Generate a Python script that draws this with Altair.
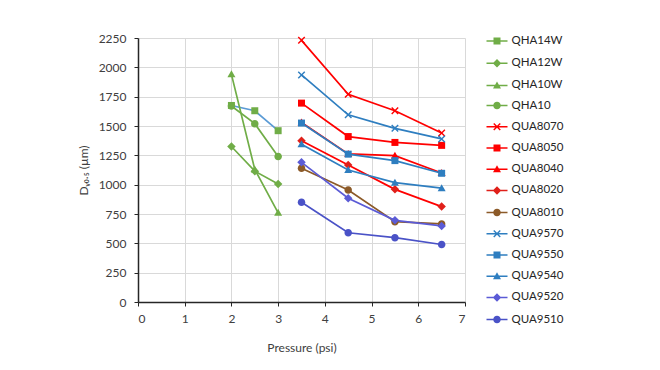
import altair as alt
import pandas as pd

# ---- data ----
x_qha = [2, 2.5, 3]
x_qua = [3.5, 4.5, 5.5, 6.5]

names = ["QHA14W", "QHA12W", "QHA10W", "QHA10",
         "QUA8070", "QUA8050", "QUA8040", "QUA8020", "QUA8010",
         "QUA9570", "QUA9550", "QUA9540", "QUA9520", "QUA9510"]

qha14w = [1675, 1630, 1460]
qha12w = [1325, 1115, 1005]
qha10w = [1940, 1130, 760]
qha10 = [1670, 1520, 1240]

qua8070 = [2230, 1770, 1630, 1440]
qua8050 = [1695, 1410, 1360, 1335]
qua8040 = [1530, 1262, 1247, 1100]
qua8020 = [1375, 1168, 960, 813]
qua8010 = [1140, 955, 685, 665]

qua9570 = [1935, 1595, 1480, 1390]
qua9550 = [1525, 1260, 1205, 1097]
qua9540 = [1345, 1125, 1017, 970]
qua9520 = [1190, 885, 696, 648]
qua9510 = [850, 590, 548, 490]

values = [qha14w, qha12w, qha10w, qha10,
          qua8070, qua8050, qua8040, qua8020, qua8010,
          qua9570, qua9550, qua9540, qua9520, qua9510]
xs = [x_qha] * 4 + [x_qua] * 10

# ---- styles ----
green = "#70AD47"
red = "#FF0000"
blue = "#2E7EC0"
line_colors = ["#5B9BD5", green, green, green,
               red, red, red, red, "#8C5A28",
               blue, blue, blue, "#5B5BD6", "#4A52C7"]
marker_colors = [green, green, green, green,
                 red, red, red, "#E0201A", "#8C5A28",
                 blue, blue, blue, "#5B5BD6", "#4A52C7"]

SQ = "M-0.7,-0.7H0.7V0.7H-0.7Z"
DI = "M0,-0.85L0.85,0L0,0.85L-0.85,0Z"
TR = "M0,-0.8L0.8,0.6L-0.8,0.6Z"
CI = "M0.75,0A0.75,0.75 0 1,1 -0.75,0A0.75,0.75 0 1,1 0.75,0Z"
XX = ("M-0.75,-0.55L-0.55,-0.75L0,-0.2L0.55,-0.75L0.75,-0.55L0.2,0"
      "L0.75,0.55L0.55,0.75L0,0.2L-0.55,0.75L-0.75,0.55L-0.2,0Z")
STUB = "M-2.1,-0.15H2.1V0.15H-2.1Z"

marker_paths = [SQ, DI, TR, CI,
                XX, SQ, TR, DI, CI,
                XX, SQ, TR, DI, CI]
legend_paths = [STUB + p for p in marker_paths]

rows = []
for n, xv, yv in zip(names, xs, values):
    for a, b in zip(xv, yv):
        rows.append({"series": n, "p": a, "d": b})
df = pd.DataFrame(rows)

FONT = "Lato"
x_enc = alt.X("p:Q", title="Pressure (psi)",
              scale=alt.Scale(domain=[0, 7], nice=False),
              axis=alt.Axis(values=list(range(0, 8)), format="d",
                            labelPadding=7, titlePadding=18))
y_enc = alt.Y("d:Q", title="Dᵥ₀.₅ (µm)",
              scale=alt.Scale(domain=[0, 2250], nice=False),
              axis=alt.Axis(values=list(range(0, 2251, 250)), format="d",
                            labelPadding=8, titlePadding=8))

lines = alt.Chart(df).mark_line(strokeWidth=1.7).encode(
    x=x_enc, y=y_enc,
    stroke=alt.Stroke("series:N", sort=names,
                      scale=alt.Scale(domain=names, range=line_colors), legend=None),
)

points = alt.Chart(df).mark_point(filled=True, size=100, opacity=1).encode(
    x=x_enc, y=y_enc,
    color=alt.Color("series:N", sort=names,
                    scale=alt.Scale(domain=names, range=marker_colors), legend=None),
    shape=alt.Shape("series:N", sort=names,
                    scale=alt.Scale(domain=names, range=marker_paths), legend=None),
)

legend_layer = alt.Chart(df).mark_point(filled=True, size=0, opacity=1).encode(
    x=x_enc, y=y_enc,
    color=alt.Color("series:N", sort=names,
                    scale=alt.Scale(domain=names, range=marker_colors),
                    legend=alt.Legend(title=None, orient="none", legendX=353, legendY=-3,
                                      symbolSize=100, labelOffset=8.5, rowPadding=7.2,
                                      padding=0, labelFont=FONT, labelFontSize=11.5,
                                      labelColor="#262626", symbolOpacity=1)),
    shape=alt.Shape("series:N", sort=names,
                    scale=alt.Scale(domain=names, range=legend_paths)),
)

chart = alt.layer(lines, points, legend_layer).resolve_scale(
    color="independent", shape="independent"
).properties(
    width=327, height=264,
    autosize=alt.AutoSizeParams(type="none"),
    padding={"left": 130, "top": 30, "right": 187, "bottom": 60},
    background="white",
).configure_view(stroke=None).configure_axis(
    gridColor="#D9D9D9", gridWidth=1,
    domainColor="#262626", domainWidth=1.5,
    tickColor="#262626", tickSize=4, tickWidth=1,
    labelFont=FONT, labelFontSize=12, labelColor="#404040",
    titleFont=FONT, titleFontSize=12, titleColor="#404040", titleFontWeight="normal",
)

chart.save("out.html", embed_options={"renderer": "svg", "actions": False})
